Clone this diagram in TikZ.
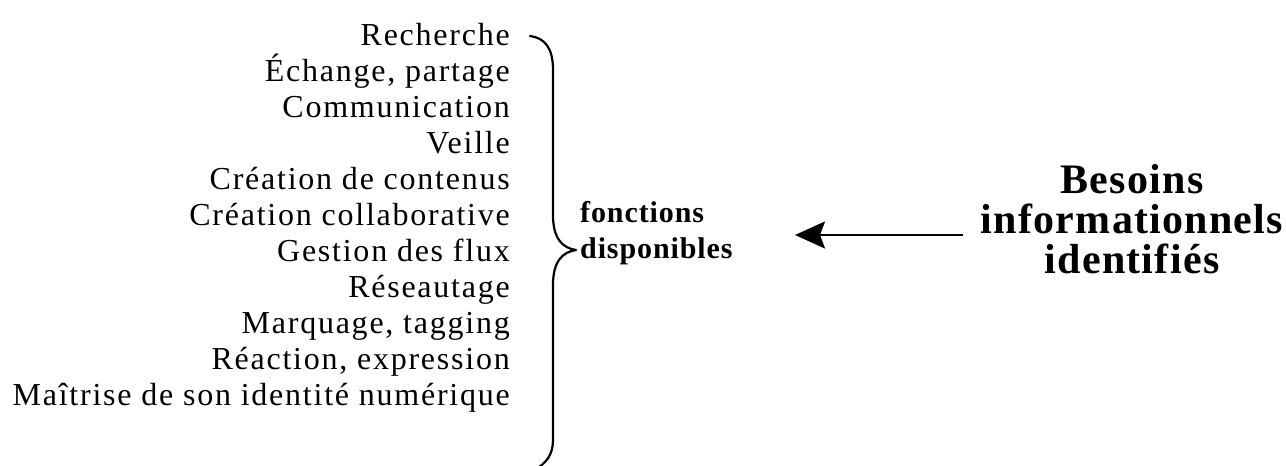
\documentclass[tikz,border=0pt]{standalone}
\usepackage{fontspec}
\setmainfont{Liberation Serif}[LetterSpace=5.5]
\newfontfamily\bserif{Liberation Serif}[LetterSpace=3]
\usetikzlibrary{arrows.meta}
\begin{document}
\begin{tikzpicture}[x=1pt,y=-1pt,
  item/.style={anchor=base east, inner sep=0pt, font=\fontsize{32}{37}\selectfont},
  fct/.style={anchor=base west, inner sep=0pt, font=\bserif\fontsize{30}{36}\bfseries\selectfont},
  need/.style={anchor=base, inner sep=0pt, font=\bserif\fontsize{42}{40}\bfseries\selectfont},
  bracestyle/.style={line width=2.2pt, line cap=round, line join=round},
  arrowstyle/.style={line width=2pt, -{Stealth[length=30pt, width=27pt, inset=5pt]}}]
\useasboundingbox (0,0) rectangle (1286,466);
\node[item] (l1) at (510,45) {Recherche};
\node[item] (l2) at (510,81) {Échange, partage};
\node[item] (l3) at (510,117) {Communication};
\node[item] (l4) at (510,153) {Veille};
\node[item] (l5) at (510,189) {Création de contenus};
\node[item] (l6) at (510,225) {Création collaborative};
\node[item] (l7) at (510,261) {Gestion des flux};
\node[item] (l8) at (510,297) {Réseautage};
\node[item] (l9) at (510,333) {Marquage, tagging};
\node[item] (l10) at (510,369) {Réaction, expression};
\node[item] (l11) at (510,405) {Maîtrise de son identité numérique};
\draw[bracestyle] (530,36) .. controls (545,38) and (553,48) .. (553,70)
  -- (553,215) .. controls (553,238) and (562,248) .. (576,250)
  .. controls (562,252) and (553,262) .. (553,285)
  -- (553,440) .. controls (553,455) and (546,463) .. (535,470);
\node[fct] (f1) at (580,222) {fonctions};
\node[fct] (f2) at (580,258) {disponibles};
\node[need] (b1) at (1132,193) {Besoins};
\node[need] (b2) at (1132,233) {informationnels};
\node[need] (b3) at (1132,273) {identifiés};
\coordinate (as) at (963,235);
\coordinate (ae) at (795,235);
\draw[arrowstyle] (as) -- (ae);
\end{tikzpicture}
\end{document}
